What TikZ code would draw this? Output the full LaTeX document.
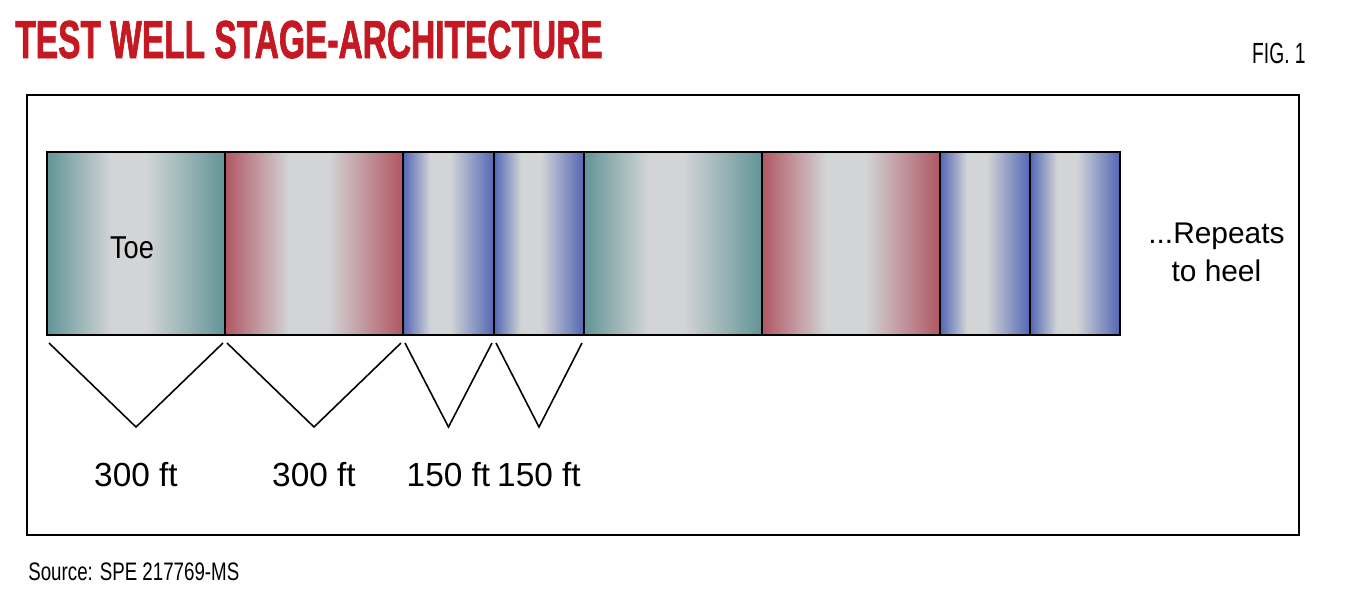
\documentclass[tikz,border=0pt]{standalone}
\usepackage{fontspec}
\setmainfont{Liberation Sans}
\newfontfamily\titlefont[FakeStretch=0.625,FakeBold=1.2]{Liberation Sans}
\newfontfamily\headfont[FakeStretch=0.66]{Liberation Sans}
\newfontfamily\notefont[FakeStretch=0.74]{Liberation Sans}
\newfontfamily\toefont[FakeStretch=0.86]{Liberation Sans}
\usetikzlibrary{calc}
\usetikzlibrary{positioning}

\definecolor{headred}{RGB}{196,24,34}
\definecolor{bandgray}{RGB}{210,212,214}
\definecolor{tealedge}{RGB}{98,148,150}
\definecolor{rededge}{RGB}{176,86,98}
\definecolor{blueedge}{RGB}{82,102,180}

% colour bands of the stages, grey in the middle
\pgfdeclarehorizontalshading{tealband}{100bp}{color(0bp)=(tealedge); color(25bp)=(tealedge); color(43bp)=(bandgray); color(53bp)=(bandgray); color(75bp)=(tealedge); color(100bp)=(tealedge)}
\pgfdeclarehorizontalshading{redband}{100bp}{color(0bp)=(rededge); color(25bp)=(rededge); color(43bp)=(bandgray); color(54bp)=(bandgray); color(75bp)=(rededge); color(100bp)=(rededge)}
\pgfdeclarehorizontalshading{blueband}{100bp}{color(0bp)=(blueedge); color(25bp)=(blueedge); color(40bp)=(bandgray); color(51bp)=(bandgray); color(75bp)=(blueedge); color(100bp)=(blueedge)}

\begin{document}
\begin{tikzpicture}[
	x=0.02cm,
	y=-0.02cm,
	stage/.style={
		draw,
		line width=1.1pt,
		inner sep=0pt,
		outer sep=0pt,
		anchor=north west,
		minimum height={183*0.02cm}
	},
	vee/.style={
		line width=0.9pt,
		line join=miter
	},
	lbl/.style={
		inner sep=0pt,
		font=\fontsize{19}{22}\selectfont
	}
]
\useasboundingbox (0,0) rectangle (1345,600);

\node[anchor=base west, inner sep=0pt, text=headred,
	font=\titlefont\bfseries\fontsize{30.5}{30}\selectfont] (title) at (15,58)
	{TEST WELL STAGE-ARCHITECTURE};
\node[anchor=base east, inner sep=0pt,
	font=\headfont\fontsize{16.6}{18}\selectfont] (fig) at (1306,63) {FIG. 1};

\draw[line width=1.6pt] (27,95) rectangle (1299,535);

% the stages
\foreach \xa/\xb/\band [count=\i] in {47/225/tealband,225/403/redband,
	403/494/blueband,494/584/blueband,584/762/tealband,762/940/redband,
	940/1030/blueband,1030/1120/blueband}
	\node[stage, shading=\band, minimum width={(\xb-\xa)*0.02cm}] (stage\i) at (\xa,152) {};

\node[font=\toefont\fontsize{18}{20}\selectfont, inner sep=0pt] (toe) at ($(stage1.center)+(-4,4)$) {Toe};

\node[lbl, align=center, font=\fontsize{17}{21.5}\selectfont,
	right=0.56cm of stage8, yshift=-5pt] (repeat) {...Repeats\\to heel};

% stage lengths
\foreach \i/\len in {1/300 ft,2/300 ft,3/150 ft,4/150 ft} {
	\coordinate (tip\i) at ($(stage\i.south)+(0,92)$);
	\draw[vee] ($(stage\i.south west)+(2,8)$) -- (tip\i) -- ($(stage\i.south east)+(-2,8)$);
	\node[lbl] (len\i) at ($(stage\i.south)+(0,140)$) {\len};
}

\node[anchor=base west, inner sep=0pt,
	font=\notefont\fontsize{14.4}{16}\selectfont] (source) at (28,580) {Source: SPE 217769-MS};
\end{tikzpicture}
\end{document}
